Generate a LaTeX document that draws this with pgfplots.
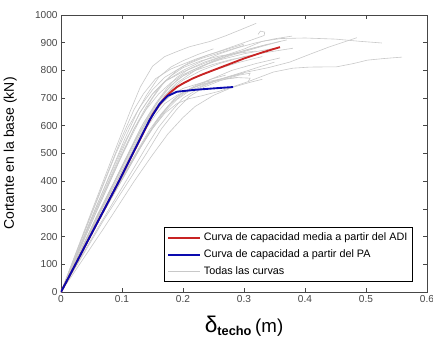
\documentclass[border=0pt]{standalone}
\usepackage{pgfplots}
\pgfplotsset{compat=1.18}
\usepackage{fontspec}
\setmainfont{Liberation Sans}
\definecolor{gcurve}{RGB}{200,200,200}
\definecolor{rcurve}{RGB}{200,35,35}
\definecolor{bcurve}{RGB}{10,10,175}
\definecolor{axgray}{RGB}{70,70,70}
\begin{document}
\begin{tikzpicture}
\begin{axis}[
  name=ax,
  scale only axis,
  width=274.5pt, height=207.75pt,
  xmin=0, xmax=0.6, ymin=0, ymax=1000,
  xtick={0,0.1,0.2,0.3,0.4,0.5,0.6},
  ytick={0,100,200,300,400,500,600,700,800,900,1000},
  xticklabels={0,0.1,0.2,0.3,0.4,0.5,0.6},
  /pgf/number format/1000 sep={},
  /pgf/number format/assume math mode=true,
  tick align=inside,
  major tick length=3pt,
  axis line style={axgray, line width=0.6pt},
  every tick/.style={axgray, line width=0.5pt},
  tick label style={font=\fontsize{7.6}{8}\selectfont, text=axgray},
  xticklabel style={yshift=1pt},
  yticklabel style={xshift=1pt},
  ylabel={\fontsize{10.5}{11}\selectfont Cortante en la base (kN)},
  ylabel style={at={(axis description cs:-0.108,0.5)}, anchor=south},
  xlabel={{\fontsize{17}{17}\selectfont δ}\raisebox{-0.45ex}{\bfseries\fontsize{9.6}{10}\selectfont techo}\ {\fontsize{14}{14}\selectfont (m)}},
  xlabel style={at={(axis description cs:0.5,-0.07)}, anchor=north},
  legend style={at={(axis description cs:0.962,0.036)}, anchor=south east,
    font=\fontsize{8.1}{9.5}\selectfont, draw=black, line width=0.5pt,
    inner sep=2pt, row sep=1.2pt},
  legend cell align=left,
  legend image code/.code={\draw[#1] (0cm,0cm) -- (0.85cm,0cm);},
]
% all curves (gray)
\pgfplotsset{gopt/.style={color=gcurve, line width=0.45pt, forget plot}}
\addplot[gopt] coordinates {(0,0) (0.05,290) (0.09,520) (0.113,650) (0.13,740) (0.15,815) (0.17,850) (0.19,868) (0.21,885) (0.245,905) (0.27,925) (0.298,950) (0.32,970)};
\addplot[gopt] coordinates {(0,0) (0.06,260) (0.12,490) (0.15,590) (0.17,645) (0.19,680) (0.21,698) (0.23,708) (0.26,725) (0.305,758) (0.348,794) (0.38,808) (0.408,812) (0.452,813) (0.48,825) (0.502,837) (0.53,843) (0.559,848)};
\addplot[gopt] coordinates {(0,0) (0.06,320) (0.1,520) (0.13,650) (0.15,715) (0.17,760) (0.2,795) (0.24,830) (0.27,855) (0.3,877) (0.33,905) (0.36,915) (0.4,917) (0.45,913) (0.49,905) (0.526,899)};
\addplot[gopt] coordinates {(0,0) (0.07,310) (0.13,560) (0.155,640) (0.17,680) (0.19,710) (0.22,740) (0.26,768) (0.3,792) (0.34,810) (0.375,830) (0.41,860) (0.44,885) (0.485,918)};
\addplot[gopt] coordinates {(0,0) (0.06,340) (0.1,560) (0.12,660) (0.135,715) (0.155,770) (0.18,805) (0.22,840) (0.25,862) (0.28,885) (0.31,908) (0.333,926) (0.334,938) (0.327,942) (0.323,930)};
\addplot[gopt] coordinates {(0,0) (0.06,310) (0.11,560) (0.13,650) (0.15,715) (0.17,760) (0.2,800) (0.23,832) (0.26,860) (0.29,882) (0.32,900) (0.35,914) (0.379,924)};
\addplot[gopt] coordinates {(0,0) (0.06,280) (0.12,530) (0.14,610) (0.16,670) (0.18,710) (0.2,735) (0.23,755) (0.26,768) (0.29,774) (0.31,772) (0.307,760)};
\addplot[gopt] coordinates {(0,0) (0.07,290) (0.14,560) (0.16,630) (0.18,680) (0.2,715) (0.22,740) (0.25,772) (0.28,800) (0.32,825) (0.359,845)};
\addplot[gopt] coordinates {(0,0) (0.05,260) (0.1,500) (0.12,590) (0.14,660) (0.16,715) (0.18,755) (0.2,785) (0.23,815) (0.26,838) (0.3,860) (0.35,880)};
\addplot[gopt] coordinates {(0,0) (0.05,280) (0.09,500) (0.11,595) (0.13,670) (0.15,730) (0.17,775) (0.2,815) (0.23,843) (0.27,870) (0.3,890)};
\addplot[gopt] coordinates {(0,0) (0.06,270) (0.11,480) (0.13,565) (0.15,635) (0.17,695) (0.19,738) (0.22,775) (0.25,800) (0.29,828) (0.33,850)};
\addplot[gopt] coordinates {(0,0) (0.07,290) (0.13,520) (0.15,590) (0.17,650) (0.19,695) (0.21,725) (0.24,752) (0.27,773) (0.3,790)};
\addplot[gopt] coordinates {(0,0) (0.07,230) (0.12,400) (0.15,495) (0.175,570) (0.2,630) (0.22,670) (0.25,710) (0.28,738) (0.31,757) (0.33,768)};
\addplot[gopt] coordinates {(0,0) (0.06,230) (0.12,450) (0.14,525) (0.16,595) (0.18,650) (0.2,700) (0.23,740) (0.26,768) (0.3,795) (0.35,830)};
\addplot[gopt] coordinates {(0,0) (0.05,230) (0.105,475) (0.13,580) (0.15,650) (0.17,710) (0.19,755) (0.22,800) (0.25,835) (0.28,858) (0.31,878) (0.34,895) (0.37,910)};
\addplot[gopt] coordinates {(0,0) (0.05,250) (0.095,470) (0.115,560) (0.13,625) (0.15,700) (0.17,760) (0.19,800) (0.21,828) (0.24,855) (0.27,875) (0.3,895)};
\addplot[gopt] coordinates {(0,0) (0.065,270) (0.125,510) (0.145,585) (0.165,645) (0.185,695) (0.2,720) (0.22,745) (0.245,768) (0.27,783)};
\addplot[gopt] coordinates {(0,0) (0.06,280) (0.115,520) (0.135,610) (0.155,680) (0.175,740) (0.19,775) (0.21,805) (0.235,830) (0.26,848) (0.29,865) (0.34,895)};
\addplot[gopt] coordinates {(0,0) (0.045,240) (0.085,450) (0.105,555) (0.125,650) (0.14,710) (0.16,775) (0.18,812) (0.2,835) (0.225,858) (0.25,878)};
\addplot[gopt] coordinates {(0,0) (0.07,290) (0.135,540) (0.155,610) (0.175,670) (0.19,705) (0.21,732) (0.23,750) (0.25,760) (0.27,768) (0.29,775)};
\addplot[gopt] coordinates {(0,0) (0.055,250) (0.11,500) (0.13,590) (0.15,660) (0.17,720) (0.19,765) (0.21,795) (0.24,825) (0.27,848) (0.3,868) (0.33,887) (0.36,905)};
\addplot[gopt] coordinates {(0,0) (0.05,225) (0.1,450) (0.12,540) (0.14,615) (0.16,680) (0.18,730) (0.2,765) (0.23,800) (0.26,825) (0.3,850) (0.34,866) (0.38,880)};
\addplot[gopt] coordinates {(0,0) (0.06,300) (0.1,495) (0.12,590) (0.14,670) (0.16,735) (0.18,780) (0.2,810) (0.23,835) (0.26,852) (0.29,862) (0.32,870)};
\addplot[gopt] coordinates {(0,0) (0.065,300) (0.12,540) (0.14,620) (0.16,690) (0.18,745) (0.2,780) (0.22,800) (0.25,822) (0.28,840) (0.31,852)};
\addplot[gopt] coordinates {(0,0) (0.07,260) (0.14,500) (0.165,590) (0.19,660) (0.21,705) (0.235,740) (0.26,762) (0.29,782) (0.31,790) (0.308,780)};
% red: mean capacity curve from ADI
\addplot[color=rcurve, line width=1.4pt] coordinates {(0,0) (0.095,400) (0.15,640) (0.16,672) (0.17,700) (0.18,722) (0.19,740) (0.2,753) (0.215,770) (0.23,784) (0.25,801) (0.275,822) (0.3,843) (0.33,865) (0.359,884)};
\addlegendentry{Curva de capacidad media a partir del ADI}
% blue: capacity curve from PA
\addplot[color=bcurve, line width=1.4pt] coordinates {(0,0) (0.095,400) (0.145,620) (0.162,680) (0.175,708) (0.19,723) (0.22,730) (0.25,735) (0.282,740)};
\addlegendentry{Curva de capacidad a partir del PA}
\addlegendimage{color=gcurve, line width=0.6pt}
\addlegendentry{Todas las curvas}
\end{axis}
\pgfresetboundingbox
\path[use as bounding box] ([xshift=-45.75pt,yshift=-33.75pt]ax.south west) rectangle ([xshift=4.5pt,yshift=11.25pt]ax.north east);
\end{tikzpicture}
\end{document}
